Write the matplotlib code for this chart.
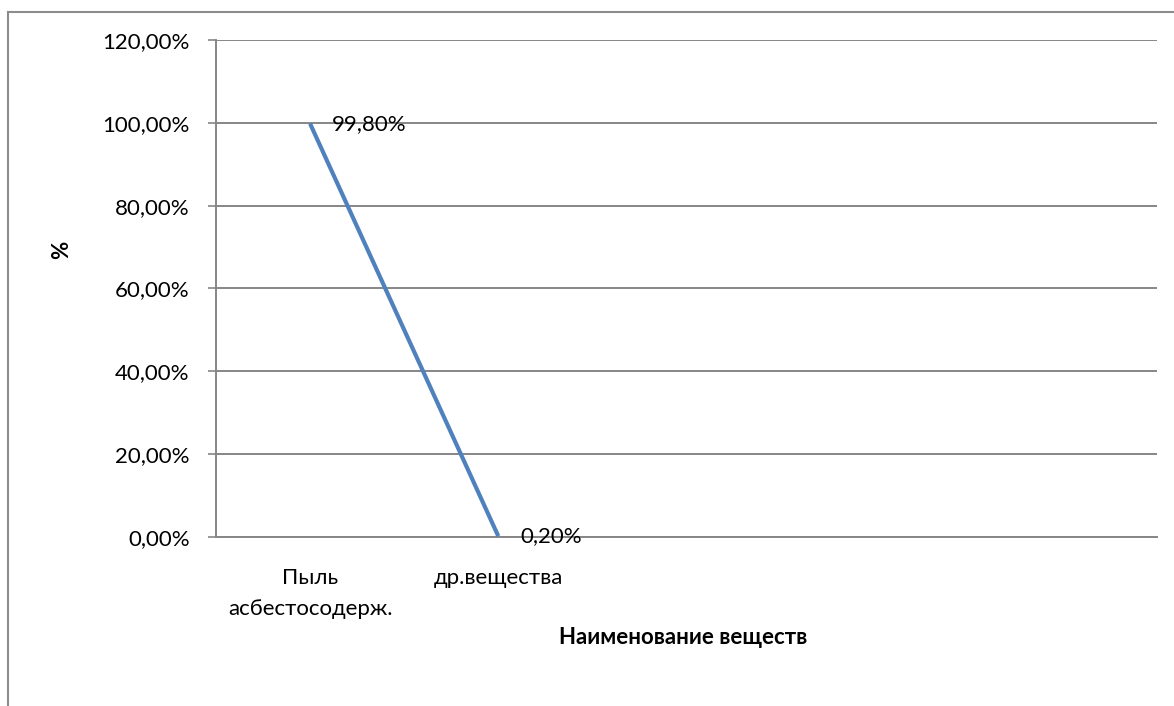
import matplotlib
matplotlib.use("Agg")
import matplotlib.pyplot as plt
from matplotlib.lines import Line2D
from matplotlib.ticker import FuncFormatter, MultipleLocator

plt.rcParams["font.family"] = ["Lato", "DejaVu Sans"]

categories = ["Пыль\nасбестосодерж.", "др.вещества"]
shares = [0.998, 0.002]
share_labels = ["99,80%", "0,20%"]
n_slots = 5

W, H = 1174, 706
FS = 16
fig = plt.figure(figsize=(W / 100, H / 100), dpi=100)
ax = fig.add_axes([216 / W, 1 - 537 / H, (1157 - 216) / W, (537 - 40) / H])

grid_color = "#868686"
x = list(range(len(shares)))
ax.plot(x, shares, color="#4F81BD", lw=3.0, solid_capstyle="butt", zorder=3)
for xi, yi, lab in zip(x, shares, share_labels):
    ax.annotate(lab, (xi, yi), xytext=(16, 0), textcoords="offset points",
                ha="left", va="center", fontsize=FS, color="black")

ax.set_xlim(-0.5, n_slots - 0.5)
ax.set_ylim(0, 1.2)
ax.yaxis.set_major_locator(MultipleLocator(0.2))
ax.yaxis.set_major_formatter(
    FuncFormatter(lambda v, _: f"{v * 100:.2f}%".replace(".", ",")))
ax.set_xticks(x)
ax.set_xticklabels(categories, fontsize=FS, linespacing=1.7)
ax.tick_params(axis="x", length=0, pad=22)
ax.tick_params(axis="y", length=6, width=1.2, color=grid_color,
               labelsize=FS, pad=13)
ax.grid(axis="y", color=grid_color, lw=1.4)
ax.set_axisbelow(True)
for side in ["top", "right"]:
    ax.spines[side].set_visible(False)
for side in ["left", "bottom"]:
    ax.spines[side].set_color(grid_color)
    ax.spines[side].set_linewidth(1.4)

fig.text(62 / W, 1 - 250 / H, "%", fontsize=FS, fontweight="bold",
         rotation=90, ha="center", va="center")
fig.text(683 / W, 1 - 637 / H, "Наименование веществ", fontsize=FS,
         fontweight="bold", ha="center", va="center")

# chart frame, clipped on the right and bottom
fig.add_artist(Line2D([8 / W, 1], [1 - 12 / H, 1 - 12 / H],
                      color="#8c8c8c", lw=1.5, transform=fig.transFigure))
fig.add_artist(Line2D([8 / W, 8 / W], [0, 1 - 12 / H],
                      color="#8c8c8c", lw=1.5, transform=fig.transFigure))

fig.savefig("out.png", dpi=100)
